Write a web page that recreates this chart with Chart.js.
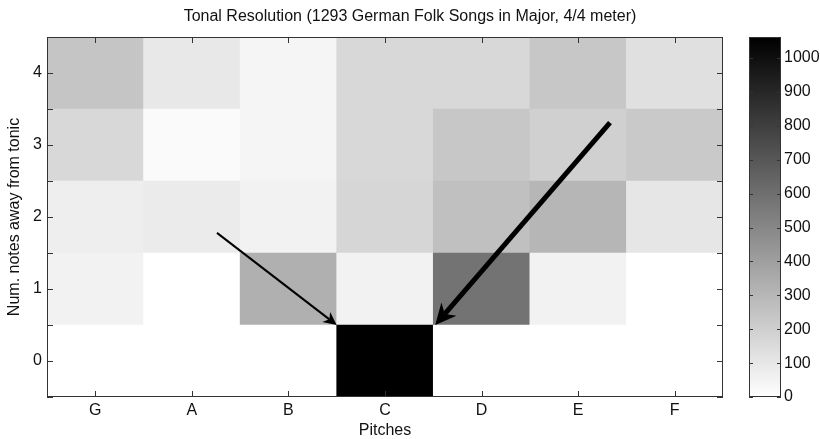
<!DOCTYPE html>
<html>
<head>
<meta charset="utf-8">
<script src="https://cdn.jsdelivr.net/npm/chart.js@4.4.1/dist/chart.umd.min.js"></script>
<style>
  html, body { margin: 0; padding: 0; background: #fff; }
  #wrap { width: 820px; height: 439px; }
</style>
</head>
<body>
<div id="wrap"><canvas id="heat" width="820" height="439"></canvas></div>
<script>
const pitches = ["G", "A", "B", "C", "D", "E", "F"];
const steps = [0, 1, 2, 3, 4];

// song counts per step away from the tonic (one array per row), columns follow pitches
const countsStep0 = [0, 0, 0, 1062, 0, 0, 0];
const countsStep1 = [54, 0, 329, 54, 583, 54, 0];
const countsStep2 = [71, 83, 54, 171, 262, 304, 104];
const countsStep3 = [162, 21, 42, 162, 233, 196, 225];
const countsStep4 = [242, 96, 42, 162, 162, 235, 129];
const colorbarTicks = [0, 100, 200, 300, 400, 500, 600, 700, 800, 900, 1000];

// annotation arrows, in data units (pitch index, step)
const arrowFrom = [[1.26, 1.78], [5.33, 3.31]];
const arrowTo = [[2.5, 0.5], [3.52, 0.5]];
const arrowWidth = [2, 5];

const rows = [countsStep0, countsStep1, countsStep2, countsStep3, countsStep4];
const vmax = Math.max(...rows.flat());

const FONT = "'Liberation Sans', Arial, sans-serif";
const SIZE = 16;
const INK = "#111";
const AXIS = "#333";

function shade(v) {
  const g = Math.round(255 * (1 - v / vmax));
  return `rgb(${g},${g},${g})`;
}

// scale paddings from tick labels would shrink the plot; the frame is fixed instead
function noPad(s) {
  s.paddingTop = 0;
  s.paddingBottom = 0;
  s.paddingLeft = 0;
  s.paddingRight = 0;
}

const datasets = steps.map((s, r) => ({
  label: "step " + s,
  data: pitches.map(() => [s - 0.5, s + 0.5]),
  backgroundColor: rows[r].map(shade),
  borderWidth: 0,
  barPercentage: 1,
  categoryPercentage: 1,
  grouped: false,
}));

function drawArrow(ctx, x0, y0, x1, y1, w) {
  const ang = Math.atan2(y1 - y0, x1 - x0);
  const len = 8 + w * 2.6;
  const half = 4 + w * 1.2;
  const bx = x1 - len * Math.cos(ang);
  const by = y1 - len * Math.sin(ang);
  const nx = x1 - len * 0.7 * Math.cos(ang);
  const ny = y1 - len * 0.7 * Math.sin(ang);
  ctx.save();
  ctx.strokeStyle = "#000";
  ctx.fillStyle = "#000";
  ctx.lineWidth = w;
  ctx.lineCap = "butt";
  ctx.beginPath();
  ctx.moveTo(x0, y0);
  ctx.lineTo(nx, ny);
  ctx.stroke();
  ctx.beginPath();
  ctx.moveTo(x1, y1);
  ctx.lineTo(bx + half * Math.sin(ang), by - half * Math.cos(ang));
  ctx.lineTo(nx, ny);
  ctx.lineTo(bx - half * Math.sin(ang), by + half * Math.cos(ang));
  ctx.closePath();
  ctx.fill();
  ctx.restore();
}

const framePlugin = {
  id: "frame",
  afterDatasetsDraw(chart) {
    const { ctx, chartArea: a, scales } = chart;
    const x = scales.x, y = scales.y, cb = scales.cb;

    // axes box with inward ticks
    ctx.save();
    ctx.strokeStyle = AXIS;
    ctx.lineWidth = 1;
    ctx.strokeRect(a.left + 0.5, a.top + 0.5, a.right - a.left - 1, a.bottom - a.top - 1);
    ctx.beginPath();
    x.ticks.forEach((t, i) => {
      const px = Math.round(x.getPixelForTick(i)) + 0.5;
      ctx.moveTo(px, a.bottom); ctx.lineTo(px, a.bottom - 6);
      ctx.moveTo(px, a.top); ctx.lineTo(px, a.top + 6);
    });
    y.ticks.forEach((t, i) => {
      const py = Math.round(y.getPixelForTick(i)) + 0.5;
      ctx.moveTo(a.left, py); ctx.lineTo(a.left + 6, py);
      ctx.moveTo(a.right, py); ctx.lineTo(a.right - 6, py);
    });
    ctx.stroke();

    // colorbar
    const cbLeft = 749, cbRight = 781;
    const top = cb.getPixelForValue(vmax), bottom = cb.getPixelForValue(0);
    const grad = ctx.createLinearGradient(0, bottom, 0, top);
    grad.addColorStop(0, shade(0));
    grad.addColorStop(1, shade(vmax));
    ctx.fillStyle = grad;
    ctx.fillRect(cbLeft, top, cbRight - cbLeft, bottom - top);
    ctx.strokeRect(cbLeft + 0.5, top + 0.5, cbRight - cbLeft - 1, bottom - top - 1);
    ctx.beginPath();
    colorbarTicks.forEach(v => {
      const py = Math.round(cb.getPixelForValue(v)) + 0.5;
      ctx.moveTo(cbLeft, py); ctx.lineTo(cbLeft + 4, py);
      ctx.moveTo(cbRight, py); ctx.lineTo(cbRight - 4, py);
    });
    ctx.stroke();
    ctx.restore();

    arrowFrom.forEach((f, i) => {
      const t = arrowTo[i];
      drawArrow(ctx,
        x.getPixelForValue(f[0]), y.getPixelForValue(f[1]),
        x.getPixelForValue(t[0]), y.getPixelForValue(t[1]),
        arrowWidth[i]);
    });
  },
};

new Chart(document.getElementById("heat"), {
  type: "bar",
  data: { labels: pitches, datasets },
  options: {
    responsive: false,
    animation: false,
    layout: { padding: 0 },
    plugins: {
      legend: { display: false },
      tooltip: { enabled: false },
      title: {
        display: true,
        text: "Tonal Resolution (1293 German Folk Songs in Major, 4/4 meter)",
        color: INK,
        font: { family: FONT, size: SIZE, weight: "normal" },
        padding: { top: 7.4, bottom: 10.4 },
      },
    },
    scales: {
      x: {
        offset: true,
        grid: { display: false, drawTicks: false },
        border: { display: false },
        ticks: { color: INK, font: { family: FONT, size: SIZE }, padding: 4.4 },
        title: { display: true, text: "Pitches", color: INK, font: { family: FONT, size: SIZE }, padding: { top: 0, bottom: -1 } },
        afterFit(s) { s.height = 42; noPad(s); },
      },
      y: {
        min: -0.5,
        max: 4.5,
        grid: { display: false, drawTicks: false },
        border: { display: false },
        ticks: {
          stepSize: 0.5,
          autoSkip: false,
          color: INK,
          font: { family: FONT, size: SIZE },
          padding: 5,
          callback: v => (Number.isInteger(v) ? v : ""),
        },
        title: { display: true, text: "Num. notes away from tonic", color: INK, font: { family: FONT, size: SIZE }, padding: { top: 5.4, bottom: 0 } },
        afterFit(s) { s.width = 47; noPad(s); },
      },
      cb: {
        type: "linear",
        position: "right",
        min: 0,
        max: vmax,
        grid: { display: false, drawTicks: false },
        border: { display: false },
        afterBuildTicks(s) { s.ticks = colorbarTicks.map(v => ({ value: v })); },
        ticks: { color: INK, font: { family: FONT, size: SIZE }, padding: 61, callback: v => String(v) },
        afterFit(s) { s.width = 97; noPad(s); },
      },
    },
  },
  plugins: [framePlugin],
});
</script>
</body>
</html>
